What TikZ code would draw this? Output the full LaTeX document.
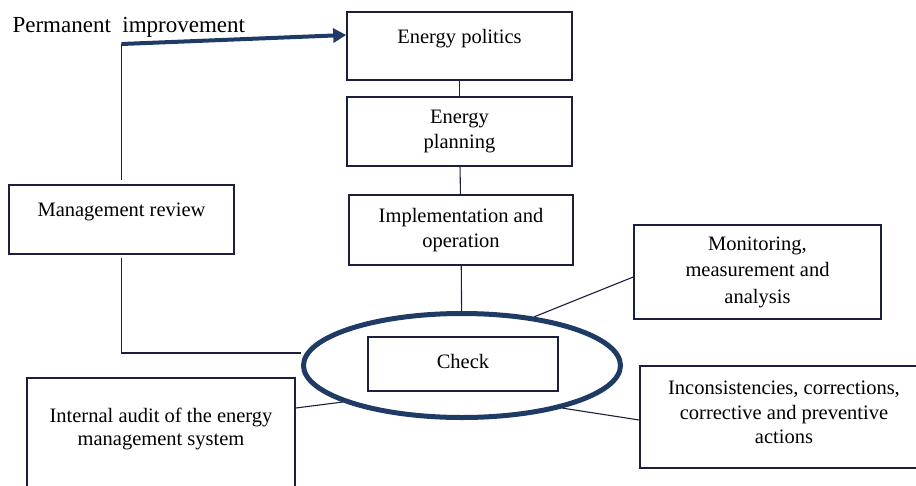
\documentclass[tikz,border=0pt]{standalone}
\usepackage{fontspec}
\setmainfont{Liberation Serif}
\usetikzlibrary{positioning,shapes.geometric,arrows.meta}
\definecolor{boxline}{HTML}{1B1E3C}
\definecolor{loopblue}{HTML}{1F3A64}

\begin{document}
\begin{tikzpicture}[x=1pt,y=-1pt,on grid,
  font=\fontsize{20.5}{24.5}\selectfont,
  box/.style={draw=boxline,line width=1.6pt,align=center,inner sep=0pt},
  link/.style={draw=boxline,line width=1.1pt},
  cycle/.style={draw=loopblue,ellipse,line width=5pt,minimum width=317pt,minimum height=104pt},
  improve/.style={draw=loopblue,line width=4pt,-{Triangle[length=13pt,width=14pt]}}]
 \path[use as bounding box] (0,0) rectangle (916,485);
 \clip (0,0) rectangle (916,485);
 %   \tikzstyle{every node}=[font=\small]
 \node[box,minimum width=225pt,minimum height=68pt,text depth=18.5pt] (politics) at (459.5,46) {Energy politics};
 \node[box,minimum width=225pt,minimum height=69pt] (planning) [below=85.5pt of politics] {Energy\\planning};
 \node[box,minimum width=224pt,minimum height=70pt] (operation) [below=98.5pt of planning,xshift=1.5pt] {Implementation and\\operation};
 \node[box,minimum width=190pt,minimum height=54pt,text depth=6pt] (check) [below=134pt of operation,xshift=2pt] {Check};
 \node[cycle] (loop) at (462,365.5) {};
 \node[box,minimum width=225pt,minimum height=69pt,text depth=20pt] (review) at (121.5,219.5) {Management review};
 \node[box,minimum width=247pt,minimum height=94pt,font=\fontsize{20.5}{26.5}\selectfont] (monitor) at (757.5,272) {Monitoring,\\measurement and\\analysis};
 \node[box,minimum width=288pt,minimum height=102pt,text depth=9pt] (nonconf) at (784,417) {Inconsistencies, corrections,\\corrective and preventive\\actions};
 \node[box,minimum width=268pt,minimum height=122pt,text depth=25pt,font=\fontsize{20.5}{23}\selectfont] (audit) at (161,439) {Internal audit of the energy\\management system};
 \node[anchor=base west,font=\fontsize{23}{27}\selectfont] (title) at (9,32) {Permanent\ \ improvement};
 \coordinate (turn) at (121.5,44);
\path[link]
 (politics) edge (planning)
 (planning) edge (operation)
 (operation) edge (loop)
 ([yshift=-5pt]monitor.west) edge (loop.34)
 ([yshift=-3pt]nonconf.west) edge (loop.-23)
 ([yshift=31pt]audit.east) edge (loop.197)
;
 \draw[link,shorten <=4pt] (review) -- (turn);
 \draw[link,shorten <=3pt] (review) |- ([yshift=12.5pt]loop.west);
 \draw[improve] (turn) -- ([yshift=11pt]politics.west);
\end{tikzpicture}
\end{document}
